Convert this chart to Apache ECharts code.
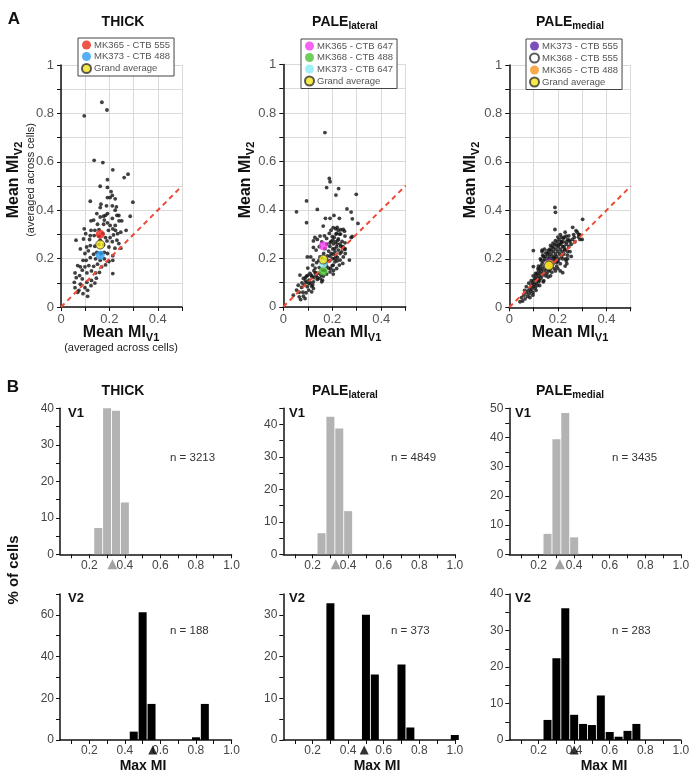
<!DOCTYPE html>
<html>
<head>
    <meta charset="utf-8">
    <title>Max MI - THICK / PALE</title>
    <script src="https://cdn.jsdelivr.net/npm/echarts@6.0.0/dist/echarts.min.js"></script>
    <style>
        body { margin: 0; background: #fff; }
        #main { width: 696px; height: 779px; }
    </style>
</head>
<body>
<div id="main"></div>
<script type="text/javascript">
    // ---------- A: mean MI per cell, [V1, V2] ----------
    var thickCells = [
        [0.169,0.846],[0.190,0.814],[0.096,0.790],[0.137,0.606],[0.173,0.597],[0.214,0.567],[0.277,0.549],[0.261,0.535],
        [0.192,0.526],[0.162,0.499],[0.192,0.494],[0.207,0.477],[0.212,0.461],[0.192,0.452],[0.203,0.452],[0.224,0.447],
        [0.121,0.437],[0.297,0.433],[0.165,0.425],[0.188,0.418],[0.212,0.418],[0.229,0.414],[0.162,0.411],[0.148,0.386],
        [0.192,0.386],[0.224,0.400],[0.231,0.379],[0.212,0.366],[0.162,0.372],[0.135,0.359],[0.176,0.375],[0.184,0.379],
        [0.179,0.359],[0.124,0.356],[0.096,0.323],[0.151,0.342],[0.176,0.342],[0.192,0.348],[0.203,0.337],[0.224,0.337],
        [0.240,0.356],[0.251,0.356],[0.214,0.323],[0.225,0.317],[0.196,0.317],[0.157,0.320],[0.140,0.317],[0.124,0.317],
        [0.102,0.303],[0.121,0.295],[0.137,0.295],[0.157,0.292],[0.173,0.303],[0.184,0.287],[0.203,0.287],[0.217,0.298],
        [0.234,0.303],[0.247,0.309],[0.269,0.317],[0.286,0.375],[0.239,0.378],[0.062,0.276],[0.093,0.281],[0.118,0.279],
        [0.162,0.276],[0.190,0.273],[0.212,0.270],[0.231,0.276],[0.239,0.262],[0.247,0.243],[0.223,0.243],[0.198,0.248],
        [0.176,0.257],[0.157,0.259],[0.140,0.251],[0.121,0.254],[0.106,0.248],[0.080,0.240],[0.214,0.212],[0.192,0.221],
        [0.179,0.226],[0.165,0.221],[0.148,0.226],[0.135,0.218],[0.113,0.232],[0.099,0.221],[0.091,0.193],[0.069,0.171],
        [0.058,0.141],[0.080,0.166],[0.104,0.193],[0.121,0.204],[0.143,0.199],[0.162,0.193],[0.179,0.199],[0.198,0.188],
        [0.214,0.193],[0.184,0.174],[0.168,0.166],[0.151,0.177],[0.135,0.168],[0.115,0.171],[0.099,0.166],[0.088,0.152],
        [0.077,0.130],[0.063,0.121],[0.055,0.102],[0.088,0.116],[0.107,0.141],[0.126,0.149],[0.143,0.141],[0.159,0.143],
        [0.146,0.119],[0.126,0.110],[0.107,0.102],[0.099,0.080],[0.080,0.094],[0.074,0.069],[0.058,0.080],[0.110,0.069],
        [0.124,0.088],[0.140,0.099],[0.110,0.044],[0.091,0.055],[0.069,0.061],[0.214,0.138]
    ];
    var lateralCells = [
        [0.170,0.719],[0.188,0.530],[0.191,0.516],[0.177,0.492],[0.226,0.488],[0.215,0.461],[0.298,0.464],[0.095,0.437],
        [0.054,0.392],[0.139,0.402],[0.095,0.347],[0.260,0.404],[0.277,0.391],[0.207,0.377],[0.191,0.365],[0.172,0.365],
        [0.229,0.365],[0.282,0.363],[0.305,0.344],[0.282,0.290],[0.270,0.193],[0.250,0.238],[0.245,0.246],[0.250,0.312],
        [0.235,0.318],[0.220,0.328],[0.163,0.333],[0.129,0.286],[0.150,0.292],[0.168,0.293],[0.177,0.282],[0.195,0.316],
        [0.204,0.327],[0.214,0.322],[0.225,0.316],[0.245,0.319],[0.188,0.303],[0.218,0.303],[0.234,0.300],[0.252,0.292],
        [0.208,0.286],[0.123,0.272],[0.139,0.278],[0.157,0.268],[0.123,0.245],[0.134,0.234],[0.147,0.248],[0.177,0.259],
        [0.191,0.264],[0.202,0.275],[0.213,0.268],[0.223,0.275],[0.232,0.259],[0.243,0.248],[0.253,0.239],[0.218,0.248],
        [0.202,0.239],[0.211,0.227],[0.225,0.234],[0.238,0.227],[0.253,0.220],[0.232,0.220],[0.204,0.217],[0.112,0.206],
        [0.123,0.193],[0.136,0.182],[0.120,0.172],[0.150,0.206],[0.177,0.193],[0.191,0.209],[0.202,0.199],[0.211,0.186],
        [0.221,0.204],[0.232,0.193],[0.243,0.179],[0.204,0.172],[0.193,0.158],[0.218,0.158],[0.229,0.172],[0.177,0.168],
        [0.147,0.162],[0.161,0.151],[0.068,0.131],[0.082,0.117],[0.095,0.127],[0.109,0.138],[0.125,0.149],[0.117,0.124],
        [0.134,0.129],[0.147,0.138],[0.139,0.113],[0.123,0.103],[0.106,0.096],[0.090,0.107],[0.076,0.099],[0.150,0.117],
        [0.164,0.127],[0.177,0.135],[0.191,0.144],[0.204,0.135],[0.157,0.103],[0.116,0.085],[0.098,0.083],[0.061,0.089],
        [0.054,0.069],[0.041,0.048],[0.065,0.041],[0.082,0.044],[0.093,0.058],[0.104,0.069],[0.089,0.034],[0.071,0.030],
        [0.116,0.062],[0.123,0.076],[0.277,0.286],[0.252,0.264],[0.245,0.206],[0.145,0.190],[0.160,0.200],[0.165,0.220],
        [0.170,0.240],[0.180,0.210],[0.185,0.230],[0.190,0.250],[0.195,0.270],[0.200,0.290],[0.205,0.260],[0.210,0.240],
        [0.215,0.210],[0.220,0.190],[0.225,0.280],[0.230,0.300],[0.235,0.250],[0.240,0.270],[0.130,0.160],[0.135,0.140],
        [0.140,0.120],[0.155,0.130],[0.160,0.110],[0.170,0.150],[0.175,0.180],[0.185,0.160],[0.190,0.190],[0.195,0.220],
        [0.200,0.170],[0.205,0.150],[0.210,0.200],[0.215,0.300],[0.220,0.260],[0.110,0.100],[0.115,0.130],[0.120,0.090],
        [0.125,0.120],[0.130,0.140],[0.105,0.110],[0.100,0.130],[0.095,0.100],[0.085,0.090],[0.090,0.120],[0.075,0.080],
        [0.080,0.060],[0.065,0.060],[0.098,0.206],[0.100,0.160]
    ];
    var medialCells = [
        [0.188,0.412],[0.190,0.392],[0.188,0.321],[0.302,0.363],[0.261,0.330],[0.275,0.316],[0.286,0.300],[0.268,0.289],
        [0.247,0.277],[0.234,0.294],[0.222,0.284],[0.213,0.271],[0.099,0.234],[0.135,0.236],[0.291,0.280],[0.220,0.143],
        [0.234,0.192],[0.240,0.215],[0.228,0.236],[0.099,0.168],
        [0.044,0.023],[0.055,0.026],[0.050,0.040],[0.060,0.050],[0.065,0.035],[0.070,0.060],[0.075,0.045],[0.078,0.070],
        [0.082,0.055],[0.085,0.080],[0.088,0.065],[0.090,0.090],[0.093,0.075],[0.095,0.100],[0.098,0.060],[0.100,0.085],
        [0.100,0.110],[0.103,0.095],[0.105,0.120],[0.107,0.080],[0.110,0.100],[0.110,0.130],[0.112,0.115],[0.115,0.090],
        [0.115,0.140],[0.118,0.120],[0.120,0.105],[0.120,0.150],[0.122,0.130],[0.125,0.110],[0.125,0.160],[0.127,0.140],
        [0.130,0.120],[0.130,0.170],[0.132,0.150],[0.135,0.130],[0.135,0.180],[0.137,0.160],[0.140,0.140],[0.140,0.190],
        [0.142,0.110],[0.145,0.170],[0.145,0.200],[0.147,0.150],[0.150,0.130],[0.150,0.180],[0.150,0.210],[0.152,0.160],
        [0.155,0.190],[0.155,0.140],[0.157,0.220],[0.160,0.170],[0.160,0.200],[0.162,0.150],[0.165,0.180],[0.165,0.210],
        [0.167,0.240],[0.170,0.160],[0.170,0.190],[0.172,0.220],[0.175,0.200],[0.175,0.170],[0.177,0.250],[0.180,0.180],
        [0.180,0.210],[0.182,0.230],[0.185,0.160],[0.185,0.190],[0.187,0.260],[0.190,0.200],[0.190,0.220],[0.192,0.240],
        [0.195,0.170],[0.195,0.210],[0.197,0.270],[0.200,0.190],[0.200,0.230],[0.202,0.250],[0.205,0.200],[0.205,0.280],
        [0.207,0.220],[0.210,0.240],[0.210,0.180],[0.212,0.260],[0.215,0.210],[0.215,0.290],[0.217,0.230],[0.220,0.250],
        [0.220,0.200],[0.222,0.270],[0.225,0.220],[0.227,0.290],[0.230,0.240],[0.232,0.200],[0.235,0.260],[0.237,0.180],
        [0.240,0.230],[0.240,0.280],[0.245,0.250],[0.250,0.270],[0.255,0.260],[0.260,0.280],[0.265,0.300],[0.270,0.270],
        [0.280,0.310],[0.285,0.290],[0.290,0.300],[0.300,0.280],
        [0.120,0.170],[0.130,0.195],[0.140,0.210],[0.150,0.225],[0.160,0.235],[0.135,0.230],[0.145,0.240],[0.155,0.165],
        [0.165,0.155],[0.175,0.145],[0.185,0.205],[0.195,0.185],[0.200,0.160],[0.210,0.150],[0.190,0.150],[0.170,0.130],
        [0.160,0.125],[0.140,0.105],[0.125,0.090],[0.110,0.070],[0.097,0.050],[0.085,0.040],[0.118,0.160],[0.108,0.140],
        [0.098,0.130],[0.090,0.110],[0.080,0.100],[0.070,0.085],[0.063,0.070],[0.128,0.200],[0.138,0.215],[0.170,0.255],
        [0.180,0.265],[0.190,0.275],[0.200,0.290],[0.210,0.300],[0.230,0.310],[0.245,0.295],[0.250,0.230],[0.255,0.210],
        [0.240,0.200],[0.230,0.170],[0.225,0.250],[0.235,0.270],[0.215,0.270],[0.205,0.260],[0.195,0.255],[0.182,0.245],
        [0.172,0.235],[0.162,0.225]
    ];
    var unityLine = [[0, 0], [0.5, 0.5]];

    var thickGroups = ['MK365 - CTB 555', 'MK373 - CTB 488', 'Grand average'];
    var thickGroupMeans = [[0.162, 0.301], [0.162, 0.214], [0.162, 0.258]];
    var lateralGroups = ['MK365 - CTB 647', 'MK368 - CTB 488', 'MK373 - CTB 647', 'Grand average'];
    var lateralGroupMeans = [[0.163, 0.252], [0.163, 0.147], [0.163, 0.179], [0.163, 0.195]];
    var medialGroups = ['MK373 - CTB 555', 'MK368 - CTB 555', 'MK365 - CTB 488', 'Grand average'];
    var medialGroupMeans = [[0.162, 0.184], [0.158, 0.176], [0.166, 0.178], [0.163, 0.172]];

    // ---------- B: max MI histograms, [bin centre, % of cells] ----------
    var v1Thick   = [[0.25, 7.2], [0.30, 40.0], [0.35, 39.3], [0.40, 14.2]];
    var v1Lateral = [[0.25, 6.5], [0.30, 42.4], [0.35, 38.8], [0.40, 13.3]];
    var v1Medial  = [[0.25, 7.0], [0.30, 39.4], [0.35, 48.4], [0.40, 5.8]];
    var v2Thick   = [[0.45, 4.0], [0.50, 61.2], [0.55, 17.3], [0.80, 1.3], [0.85, 17.3]];
    var v2Lateral = [[0.30, 32.8], [0.50, 30.0], [0.55, 15.7], [0.70, 18.1], [0.75, 3.0], [1.00, 1.2]];
    var v2Medial  = [[0.25, 5.5], [0.30, 22.4], [0.35, 36.1], [0.40, 6.9], [0.45, 4.4], [0.50, 4.1],
                     [0.55, 12.2], [0.60, 2.2], [0.65, 0.9], [0.70, 2.5], [0.75, 4.4]];
    var v1Counts = [3213, 4849, 3435];
    var v2Counts = [188, 373, 283];
    var v1Means = [0.33, 0.33, 0.32];
    var v2Means = [0.557, 0.49, 0.40];
    var v1YMax = [40, 45, 50];
    var v2YMax = [70, 35, 40];
    var v2YStep = [10, 5, 5];
    var v2LabelStep = [20, 10, 10];
    var histXTicks = [0.1, 0.2, 0.3, 0.4, 0.5, 0.6, 0.7, 0.8, 0.9, 1.0];
    var histXLabels = [0.2, 0.4, 0.6, 0.8, 1.0];

    var fontFam = 'Liberation Sans, Arial, Helvetica, sans-serif';
    var ink = '#111';

    var grids = [], xAxes = [], yAxes = [], series = [], legends = [], graphics = [];

    // scatter panels
    var scatterBox = [[61, 65, 121, 242], [283.3, 64.5, 122.4, 242.3], [509.3, 65, 121.4, 242.3]];
    var scatterSets = [
        {cells: thickCells, names: thickGroups, means: thickGroupMeans,
         colors: ['#ec2a1c', '#2a9bf0', '#f3e51b'], legendPos: [78, 38]},
        {cells: lateralCells, names: lateralGroups, means: lateralGroupMeans,
         colors: ['#f23cf0', '#4cc234', '#86eef8', '#f3e51b'], legendPos: [301, 39]},
        {cells: medialCells, names: medialGroups, means: medialGroupMeans,
         colors: ['#5b22a8', '#ffffff', '#f7931e', '#f3e51b'], legendPos: [526, 39]}
    ];

    function tenthsLabel(v) {
        var t = Math.round(v * 10);
        if (t % 2 !== 0) return '';
        return String(t / 10);
    }

    scatterSets.forEach(function (set, i) {
        var b = scatterBox[i];
        grids.push({left: b[0], top: b[1], width: b[2], height: b[3], outerBoundsMode: 'none'});
        xAxes.push({
            gridIndex: i, type: 'value', min: 0, max: 0.5, interval: 0.1,
            axisLine: {show: true, onZero: false, lineStyle: {color: ink, width: 1.5}},
            axisTick: {show: true, length: 4, lineStyle: {color: ink}},
            splitLine: {show: true, lineStyle: {color: '#dadada', width: 1}},
            axisLabel: {formatter: tenthsLabel, fontSize: 13, color: '#555', margin: 6, fontFamily: fontFam}
        });
        yAxes.push({
            gridIndex: i, type: 'value', min: 0, max: 1, interval: 0.1,
            axisLine: {show: true, onZero: false, lineStyle: {color: ink, width: 1.5}},
            axisTick: {show: true, length: 4, lineStyle: {color: ink}},
            splitLine: {show: true, lineStyle: {color: '#dadada', width: 1}},
            axisLabel: {formatter: tenthsLabel, fontSize: 13, color: '#555', margin: 7, fontFamily: fontFam}
        });
        series.push({
            type: 'scatter', name: 'cells ' + i, xAxisIndex: i, yAxisIndex: i, data: set.cells,
            symbolSize: 3.8, itemStyle: {color: ink}, z: 2, silent: true
        });
        series.push({
            type: 'line', name: 'unity ' + i, xAxisIndex: i, yAxisIndex: i, data: unityLine,
            symbol: 'none', lineStyle: {color: '#ef4a37', width: 2, type: [5, 4]}, z: 3, silent: true
        });
        set.names.forEach(function (nm, k) {
            var isAvg = nm === 'Grand average';
            var isWhite = set.colors[k] === '#ffffff';
            series.push({
                type: 'scatter', name: nm, xAxisIndex: i, yAxisIndex: i, data: [set.means[k]],
                symbolSize: 9,
                itemStyle: {
                    color: set.colors[k],
                    borderColor: (isAvg || isWhite) ? '#333' : set.colors[k],
                    borderWidth: (isAvg || isWhite) ? 1 : 0
                },
                z: isAvg ? 9 : 4 + k
            });
        });
        legends.push({
            data: set.names, left: set.legendPos[0], top: set.legendPos[1], orient: 'vertical',
            icon: 'circle', itemWidth: 9, itemHeight: 9, itemGap: 1.5, padding: [2, 4, 2, 3],
            borderColor: '#444', borderWidth: 1, backgroundColor: '#fff', selectedMode: false,
            textStyle: {fontSize: 9.5, color: '#555', fontFamily: fontFam, lineHeight: 10, padding: [0, 0, 0, -2]}, z: 10
        });
    });

    // histogram panels
    var histLeft = [60, 283.3, 509.3];
    var histWidth = 171.5;
    var histSets = [];
    [v1Thick, v1Lateral, v1Medial].forEach(function (bins, c) {
        histSets.push({bins: bins, col: c, bottom: 554.3, yMax: v1YMax[c], step: 5, labelStep: 10,
                       mean: v1Means[c], color: '#b3b3b3', mark: '#8c8c8c', markSize: [10, 10]});
    });
    [v2Thick, v2Lateral, v2Medial].forEach(function (bins, c) {
        histSets.push({bins: bins, col: c, bottom: 740, yMax: v2YMax[c], step: v2YStep[c], labelStep: v2LabelStep[c],
                       mean: v2Means[c], color: '#000', mark: '#000', markSize: [9, 9]});
    });

    histSets.forEach(function (h) {
        var gi = grids.length;
        grids.push({left: histLeft[h.col], top: h.bottom - 146, width: histWidth, height: 146, outerBoundsMode: 'none'});
        xAxes.push({
            gridIndex: gi, type: 'value', min: 0.035, max: 1.0,
            axisLine: {show: true, onZero: false, lineStyle: {color: ink, width: 1.5}},
            axisTick: {show: true, length: 4, customValues: histXTicks, lineStyle: {color: ink}},
            splitLine: {show: false},
            axisLabel: {customValues: histXLabels, formatter: function (v) { return v.toFixed(1); },
                        fontSize: 12, color: '#444', margin: 5, fontFamily: fontFam}
        });
        yAxes.push({
            gridIndex: gi, type: 'value', min: 0, max: h.yMax, interval: h.step,
            axisLine: {show: true, onZero: false, lineStyle: {color: ink, width: 1.5}},
            axisTick: {show: true, length: 4, lineStyle: {color: ink}},
            splitLine: {show: false},
            axisLabel: {formatter: function (v) { return v % h.labelStep === 0 ? String(v) : ''; },
                        fontSize: 12, color: '#444', margin: 6, fontFamily: fontFam}
        });
        series.push({
            type: 'bar', xAxisIndex: gi, yAxisIndex: gi, data: h.bins, barWidth: 8,
            itemStyle: {color: h.color}, clip: false, silent: true, z: 2
        });
        series.push({
            type: 'scatter', xAxisIndex: gi, yAxisIndex: gi, data: [[h.mean, 0]], symbol: 'triangle',
            symbolSize: h.markSize, symbolOffset: [0, 10], itemStyle: {color: h.mark}, clip: false, silent: true, z: 5
        });
    });

    // text
    function txt(x, y, text, style, vertical) {
        return {
            type: 'text', x: x, y: y, rotation: vertical ? Math.PI / 2 : 0, z: 20, silent: true,
            style: Object.assign({text: text, align: 'center', verticalAlign: 'middle', fill: ink,
                                  fontFamily: fontFam}, style)
        };
    }
    var nameRich = {
        m: {fontSize: 16, fontWeight: 'bold', fontFamily: fontFam, fill: ink, lineHeight: 20},
        s: {fontSize: 11, fontWeight: 'bold', fontFamily: fontFam, fill: ink, lineHeight: 8, verticalAlign: 'bottom'}
    };
    var titleRich = {
        m: {fontSize: 14, fontWeight: 'bold', fontFamily: fontFam, fill: ink, lineHeight: 18},
        s: {fontSize: 10, fontWeight: 'bold', fontFamily: fontFam, fill: ink, lineHeight: 6, verticalAlign: 'bottom'}
    };
    var titles = ['{m|THICK}', '{m|PALE}{s|lateral}', '{m|PALE}{s|medial}'];
    var titleX = [123, 345, 570];

    graphics.push(txt(14, 19, 'A', {fontSize: 17, fontWeight: 'bold'}));
    graphics.push(txt(13, 387, 'B', {fontSize: 17, fontWeight: 'bold'}));
    titles.forEach(function (t, i) {
        graphics.push(txt(titleX[i], 22, t, {rich: titleRich}));
        graphics.push(txt(titleX[i], 391, t, {rich: titleRich}));
    });

    var xNameX = [121, 343, 570];
    var yNameX = [14, 246, 471];
    for (var i = 0; i < 3; i++) {
        graphics.push(txt(xNameX[i], 333, '{m|Mean MI}{s|V1}', {rich: nameRich}));
        graphics.push(txt(yNameX[i], 180, '{m|Mean MI}{s|V2}', {rich: nameRich}, true));
    }
    graphics.push(txt(121, 348, '(averaged across cells)', {fontSize: 11, fill: '#222'}));
    graphics.push(txt(31, 180, '(averaged across cells)', {fontSize: 11, fill: '#222'}, true));

    var vLabelX = [68, 289, 515];
    var nX = [170, 391, 612];
    var maxMIX = [143, 377, 604];
    for (var c = 0; c < 3; c++) {
        graphics.push(txt(vLabelX[c], 413, 'V1', {fontSize: 13, fontWeight: 'bold', align: 'left'}));
        graphics.push(txt(vLabelX[c], 598, 'V2', {fontSize: 13, fontWeight: 'bold', align: 'left'}));
        graphics.push(txt(nX[c], 458, 'n = ' + v1Counts[c], {fontSize: 11.5, fill: '#333', align: 'left'}));
        graphics.push(txt(nX[c], 631, 'n = ' + v2Counts[c], {fontSize: 11.5, fill: '#333', align: 'left'}));
        graphics.push(txt(maxMIX[c], 766, 'Max MI', {fontSize: 14, fontWeight: 'bold'}));
    }
    graphics.push(txt(14, 570, '% of cells', {fontSize: 15, fontWeight: 'bold'}, true));

    var myChart = echarts.init(document.getElementById('main'));
    myChart.setOption({
        animation: false,
        backgroundColor: '#fff',
        textStyle: {fontFamily: fontFam},
        grid: grids,
        xAxis: xAxes,
        yAxis: yAxes,
        legend: legends,
        series: series,
        graphic: graphics
    });
</script>
</body>
</html>
